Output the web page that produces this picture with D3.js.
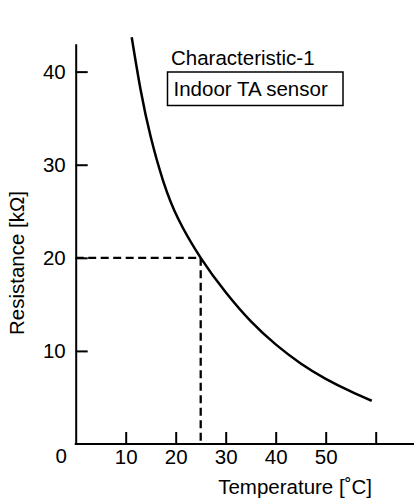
<!DOCTYPE html>
<html>
<head>
<meta charset="utf-8">
<script src="https://cdn.jsdelivr.net/npm/d3@7"></script>
<style>
  html, body { margin: 0; padding: 0; background: #fff; }
  svg text { font-family: "Liberation Sans", Arial, Helvetica, sans-serif; fill: #000; }
</style>
</head>
<body>
<svg width="414" height="499"></svg>
<script>
// curve
const temperatures = [11.2, 13, 15, 17.5, 20.5, 25, 30, 35, 40, 45, 50, 55, 59.2];
const resistances = [43.7, 38.0, 33.0, 28.25, 24.2, 20.0, 16.3, 13.2, 10.7, 8.65, 7.0, 5.65, 4.64];

const xTicks = [10, 20, 30, 40, 50, 60];
const yTicks = [10, 20, 30, 40];
const refTemp = 25;
const refRes = 20;

const FONT_SIZE = "20.5px";
const TICK_LEN = 12;

var svg = d3.select("svg"),
    width = +svg.attr("width"),
    height = +svg.attr("height");

var x = d3.scaleLinear().domain([0, 60]).range([75.7, 375.7]);
var y = d3.scaleLinear().domain([0, 43]).range([444, 43.7]);

var points = temperatures.map(function(t, i) { return [t, resistances[i]]; });

// x axis: ticks point up into the plot, line runs to the right edge
var xAxis = svg.append("g")
    .attr("transform", "translate(0," + y(0) + ")")
    .call(d3.axisBottom(x)
      .tickValues(xTicks)
      .tickSizeInner(-TICK_LEN)
      .tickSizeOuter(0)
      .tickPadding(5)
      .tickFormat(function(d) { return d === 60 ? "" : d; }));
xAxis.select(".domain").remove();
xAxis.selectAll("line").attr("stroke", "#000").attr("stroke-width", 2);
xAxis.selectAll("text").style("font-size", FONT_SIZE).attr("fill", "#000");

svg.append("line")
    .attr("x1", x(0) - 1).attr("x2", width)
    .attr("y1", y(0)).attr("y2", y(0))
    .attr("stroke", "#000")
    .attr("stroke-width", 2);

// y axis
var yAxis = svg.append("g")
    .attr("transform", "translate(" + x(0) + ",0)")
    .call(d3.axisLeft(y)
      .tickValues(yTicks)
      .tickSizeInner(-TICK_LEN)
      .tickSizeOuter(0)
      .tickPadding(10));
yAxis.select(".domain").attr("stroke", "#000").attr("stroke-width", 2);
yAxis.selectAll("line").attr("stroke", "#000").attr("stroke-width", 2);
yAxis.selectAll("text").style("font-size", FONT_SIZE).attr("fill", "#000");

// the lone origin label
svg.append("text")
    .attr("x", 67)
    .attr("y", 463)
    .attr("text-anchor", "end")
    .style("font-size", FONT_SIZE)
    .text("0");

// dashed reference lines at 25 °C / 20 kΩ
svg.append("path")
    .attr("d", "M" + x(0) + "," + y(refRes) + "H" + x(refTemp) + "V" + y(0))
    .attr("fill", "none")
    .attr("stroke", "#000")
    .attr("stroke-width", 2.3)
    .attr("stroke-dasharray", "8,4.5");

var line = d3.line()
    .x(function(d) { return x(d[0]); })
    .y(function(d) { return y(d[1]); })
    .curve(d3.curveNatural);

svg.append("path")
    .datum(points)
    .attr("d", line)
    .attr("fill", "none")
    .attr("stroke", "#000")
    .attr("stroke-width", 2.5);

// titles
svg.append("text")
    .attr("x", 171)
    .attr("y", 64.5)
    .style("font-size", FONT_SIZE)
    .text("Characteristic-1");

svg.append("rect")
    .attr("x", 167.5).attr("y", 72)
    .attr("width", 175.5).attr("height", 33.5)
    .attr("fill", "none")
    .attr("stroke", "#000")
    .attr("stroke-width", 1.5);

svg.append("text")
    .attr("x", 173.5)
    .attr("y", 96)
    .style("font-size", FONT_SIZE)
    .text("Indoor TA sensor");

svg.append("text")
    .attr("x", 372)
    .attr("y", 494)
    .attr("text-anchor", "end")
    .style("font-size", FONT_SIZE)
    .text("Temperature [˚C]");

svg.append("text")
    .attr("transform", "translate(24," + 263 + ") rotate(-90)")
    .attr("text-anchor", "middle")
    .style("font-size", FONT_SIZE)
    .text("Resistance [kΩ]");
</script>
</body>
</html>
